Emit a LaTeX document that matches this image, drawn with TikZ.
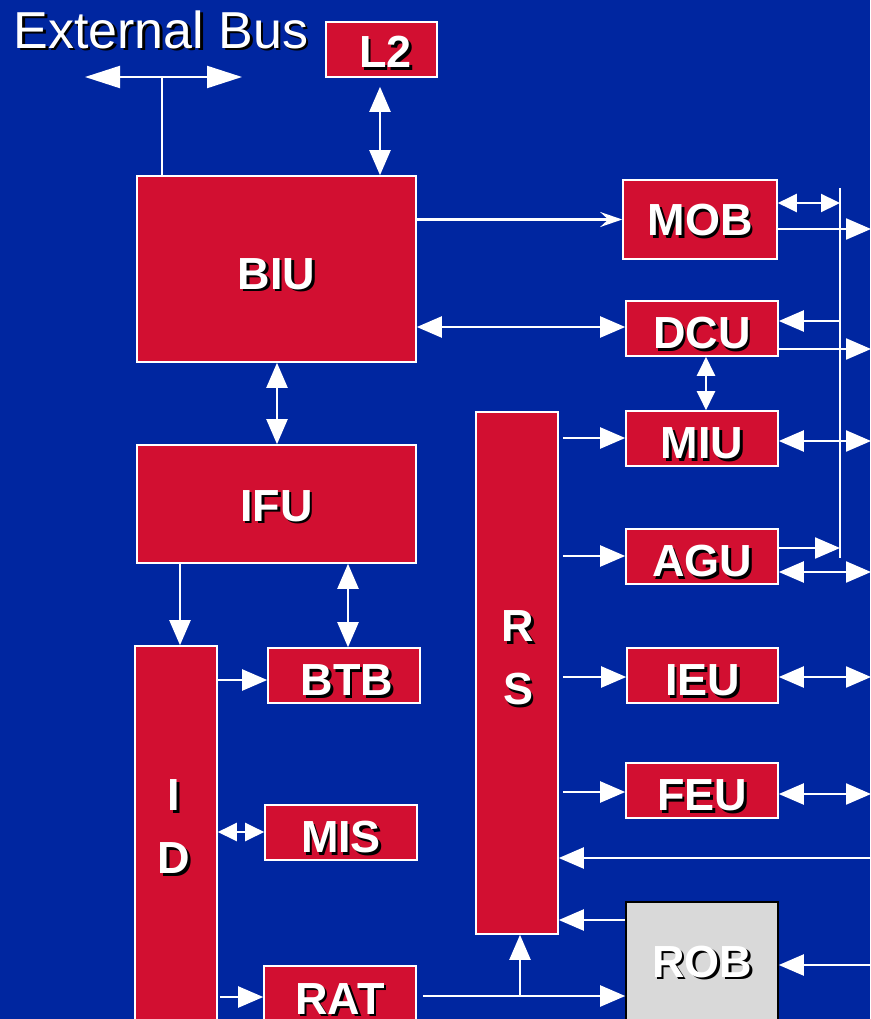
\documentclass[tikz,border=0pt]{standalone}
\usepackage{fontspec}
\newfontfamily\arial{Liberation Sans}
\usetikzlibrary{arrows.meta}
\definecolor{bgblue}{RGB}{0,38,160}
\definecolor{unitred}{RGB}{210,15,49}
\definecolor{robgray}{RGB}{217,217,217}
\newcommand\shtext[1]{\rlap{\kern2.5pt\raisebox{-2.5pt}{\textcolor{black}{#1}}}#1}
\newcommand\lowtext[2][6pt]{\raisebox{-#1}[\height][\depth]{\shtext{#2}}}
\tikzset{
  unit/.style={draw=white,line width=1.6pt,fill=unitred,text=white,inner sep=0pt,
    font=\arial\bfseries\fontsize{45}{63}\selectfont},
  lbl/.style={text=white,inner sep=0pt,align=center,
    font=\arial\bfseries\fontsize{45}{63}\selectfont},
  wire/.style={draw=white,line width=2.2pt},
  arr/.style={wire,-{Triangle[length=25pt,width=21pt]}},
  biarr/.style={wire,{Triangle[length=25pt,width=21pt]}-{Triangle[length=25pt,width=21pt]}},
  smallbi/.style={wire,{Triangle[length=19pt,width=18pt]}-{Triangle[length=19pt,width=18pt]}},
  thinarr/.style={wire,-{Stealth[length=22pt,width=15pt,inset=8pt]}},
}
\begin{document}
\begin{tikzpicture}[x=1pt,y=-1pt]
\fill[bgblue] (0,0) rectangle (870,1019);
\clip (0,0) rectangle (870,1019);
% units
\node[unit,minimum width=111pt,minimum height=55pt] (l2) at (381.5,49.5) {\hspace{8pt}\lowtext[4pt]{L2}};
\node[unit,minimum width=279pt,minimum height=186pt] (biu) at (276.5,269) {\lowtext{BIU}\hspace{10pt}};
\node[unit,minimum width=279pt,minimum height=118pt] (ifu) at (276.5,504) {\lowtext[3pt]{IFU}};
\node[unit,minimum width=82pt,minimum height=394pt] (id) at (176,843) {};
\node[lbl] (idtxt) at (174,828) {\shtext{I}\\\shtext{D}};
\node[unit,minimum width=152pt,minimum height=55pt] (btb) at (344,675.5) {\hspace{6pt}\lowtext{BTB}};
\node[unit,minimum width=152pt,minimum height=55pt] (mis) at (341,832.5) {\lowtext{MIS}};
\node[unit,minimum width=152pt,minimum height=68pt] (rat) at (340,1000) {\lowtext[0pt]{RAT}};
\node[unit,minimum width=82pt,minimum height=522pt] (rs) at (517,673) {};
\node[lbl] (rstxt) at (518,659) {\shtext{R}\\\shtext{S}};
\node[unit,minimum width=154pt,minimum height=79pt] (mob) at (700,219.5) {\lowtext[2pt]{MOB}};
\node[unit,minimum width=152pt,minimum height=55pt] (dcu) at (702,328.5) {\lowtext{DCU}};
\node[unit,minimum width=152pt,minimum height=55pt] (miu) at (702,438.5) {\lowtext{MIU}};
\node[unit,minimum width=152pt,minimum height=55pt] (agu) at (702,556.5) {\lowtext{AGU}};
\node[unit,minimum width=151pt,minimum height=55pt] (ieu) at (702.5,675.5) {\lowtext{IEU}};
\node[unit,minimum width=152pt,minimum height=55pt] (feu) at (702,790.5) {\lowtext{FEU}};
\node[unit,draw=black,fill=robgray,minimum width=152pt,minimum height=122pt] (rob) at (702,963) {\lowtext[0pt]{ROB}};
\node[text=white,inner sep=0pt,font=\arial\fontsize{52}{60}\selectfont] (extbus) at (161,31) {\shtext{External Bus}};
% bus and edge points
\coordinate (busl) at (85,77);
\coordinate (busr) at (242,77);
\coordinate (tap) at (162,77);
\coordinate (bustop) at (840,188);
\coordinate (busbot) at (840,558);
\coordinate (edge) at (871,0);
\draw[wire] (bustop) -- (busbot);
\draw[wire,{Triangle[length=35pt,width=22pt]}-{Triangle[length=35pt,width=22pt]}] (busl) -- (busr);
\draw[wire] (tap) -- (biu.north -| tap);
\draw[biarr] ([yshift=-9pt]l2.south -| 380,0) -- (biu.north -| 380,0);
% BIU to memory side
\draw[thinarr] (biu.east |- mob.west) -- (mob.west);
\draw[biarr] (biu.east |- 0,327) -- (dcu.west |- 0,327);
\draw[smallbi] (mob.east |- 0,203) -- (bustop |- 0,203);
\draw[arr] (mob.east |- 0,229) -- (edge |- 0,229);
\draw[arr] (bustop |- 0,321) -- (dcu.east |- 0,321);
\draw[arr] (dcu.east |- 0,349) -- (edge |- 0,349);
\draw[smallbi] (dcu.south -| 706,0) -- (miu.north -| 706,0);
\draw[biarr] (miu.east |- 0,441) -- (edge |- 0,441);
\draw[arr] (agu.east |- 0,548) -- (busbot |- 0,548);
\draw[biarr] (agu.east |- 0,572) -- (edge |- 0,572);
\draw[biarr] (ieu.east |- 0,677) -- (edge |- 0,677);
\draw[biarr] (feu.east |- 0,794) -- (edge |- 0,794);
% RS dispatch
\foreach \u/\y in {miu/438,agu/556,ieu/677,feu/792} {
  \draw[arr] ([xshift=4pt]rs.east |- 0,\y) -- (\u.west |- 0,\y); }
\draw[arr] (edge |- 0,858) -- (rs.east |- 0,858);
\draw[arr] (rob.west |- 0,920) -- (rs.east |- 0,920);
\draw[arr] (edge |- 0,965) -- (rob.east |- 0,965);
\draw[arr] ([xshift=6pt]rat.east |- 0,996) -- (rob.west |- 0,996);
\draw[arr] (520,996) -- (rs.south -| 520,0);
% front end
\draw[biarr] (biu.south -| 277,0) -- (ifu.north -| 277,0);
\draw[arr] (ifu.south -| 180,0) -- (id.north -| 180,0);
\draw[biarr] (ifu.south -| 348,0) -- (btb.north -| 348,0);
\draw[arr] (id.east |- 0,680) -- (btb.west |- 0,680);
\draw[smallbi] (id.east |- 0,832) -- (mis.west |- 0,832);
\draw[arr] ([xshift=2pt]id.east |- 0,997) -- (rat.west |- 0,997);
\end{tikzpicture}
\end{document}
